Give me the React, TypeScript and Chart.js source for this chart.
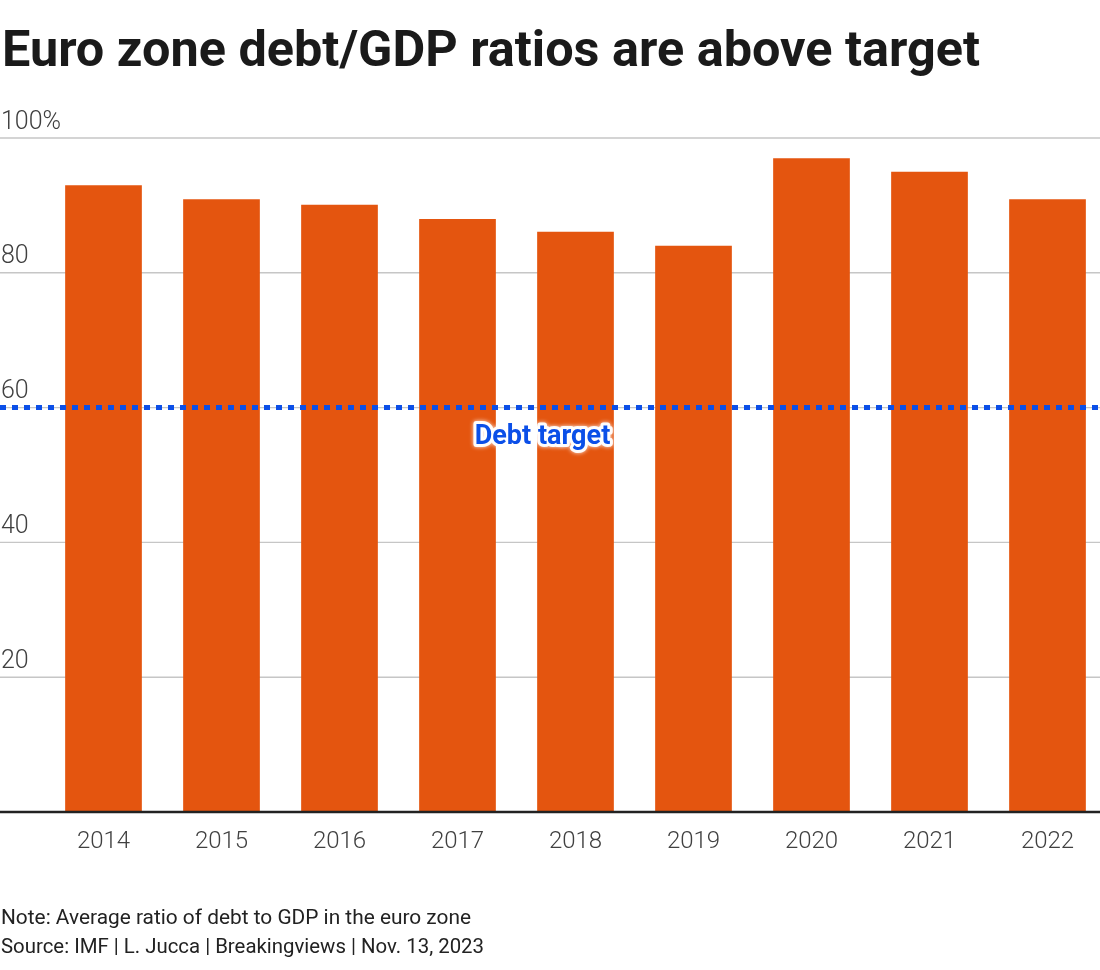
import React, { useEffect, useRef } from "react";
import { Chart, registerables } from "chart.js";

Chart.register(...registerables);

const years = ["2014", "2015", "2016", "2017", "2018", "2019", "2020", "2021", "2022"];
const debtRatio = [93.0, 90.9, 90.1, 88.0, 86.1, 84.0, 97.0, 95.0, 90.9];
const yTicks = [20, 40, 60, 80, 100];
const targetValue = 60;
const targetLabel = "Debt target";
const titleText = "Euro zone debt/GDP ratios are above target";
const noteText = "Note: Average ratio of debt to GDP in the euro zone";
const sourceText = "Source: IMF | L. Jucca | Breakingviews | Nov. 13, 2023";

const W = 1100;
const H = 970;
const BAR = "#E4550F";
const BLUE = "#0B4FE8";

const overlay = {
  id: "overlay",
  beforeDatasetsDraw(chart: any) {
    const ctx = chart.ctx;
    const y = chart.scales.y;
    ctx.save();
    ctx.strokeStyle = "#c6c6c6";
    ctx.lineWidth = 1.4;
    ctx.fillStyle = "#404040";
    ctx.font = "300 25px Roboto";
    ctx.textAlign = "left";
    ctx.textBaseline = "alphabetic";
    yTicks.forEach((v) => {
      const py = y.getPixelForValue(v);
      ctx.beginPath();
      ctx.moveTo(0, py);
      ctx.lineTo(W, py);
      ctx.stroke();
      ctx.fillText(v === 100 ? v + "%" : String(v), 1, py - 9.5);
    });
    ctx.restore();
  },
  afterDatasetsDraw(chart: any) {
    const ctx = chart.ctx;
    const y = chart.scales.y;
    ctx.save();
    const p0 = y.getPixelForValue(0);
    ctx.strokeStyle = "#222";
    ctx.lineWidth = 2.5;
    ctx.beginPath();
    ctx.moveTo(0, p0);
    ctx.lineTo(W, p0);
    ctx.stroke();
    const pt = y.getPixelForValue(targetValue);
    ctx.strokeStyle = BLUE;
    ctx.lineWidth = 5;
    ctx.setLineDash([6, 6]);
    ctx.beginPath();
    ctx.moveTo(0, pt);
    ctx.lineTo(W, pt);
    ctx.stroke();
    ctx.setLineDash([]);
    ctx.font = "bold 27px Roboto";
    ctx.textAlign = "center";
    ctx.textBaseline = "alphabetic";
    ctx.lineJoin = "round";
    ctx.strokeStyle = "rgba(255,255,255,0.95)";
    ctx.lineWidth = 6;
    ctx.shadowColor = "rgba(255,255,255,0.9)";
    ctx.shadowBlur = 4;
    ctx.strokeText(targetLabel, 542.5, pt + 36, 139);
    ctx.shadowBlur = 0;
    ctx.fillStyle = BLUE;
    ctx.fillText(targetLabel, 542.5, pt + 36, 139);
    ctx.restore();
  },
  afterDraw(chart: any) {
    const ctx = chart.ctx;
    ctx.save();
    ctx.textAlign = "left";
    ctx.textBaseline = "alphabetic";
    ctx.fillStyle = "#1a1a1a";
    ctx.font = "bold 50.5px Roboto";
    ctx.fillText(titleText, 2, 66, 978);
    ctx.fillStyle = "#222";
    ctx.font = "400 21px Roboto";
    ctx.fillText(noteText, 1, 924, 470);
    ctx.fillText(sourceText, 1, 953, 483);
    ctx.restore();
  },
};

export default function App() {
  const ref = useRef<HTMLCanvasElement | null>(null);
  useEffect(() => {
    if (!ref.current) return;
    const chart = new Chart(ref.current, {
      type: "bar",
      data: {
        labels: years,
        datasets: [
          {
            data: debtRatio,
            backgroundColor: BAR,
            borderWidth: 0,
            categoryPercentage: 1,
            barPercentage: 0.65,
            clip: false as any,
          },
        ],
      },
      options: {
        responsive: false,
        animation: false,
        devicePixelRatio: 1,
        layout: { padding: { left: 103.5, right: 52.5, top: 138, bottom: 0 } },
        plugins: { legend: { display: false }, tooltip: { enabled: false }, title: { display: false } },
        scales: {
          x: {
            offset: false,
            grid: { display: false, drawTicks: false },
            border: { display: false },
            ticks: { font: { family: "Roboto", size: 24, weight: "300" as any }, color: "#404040", padding: 16, maxRotation: 0 },
            afterFit: (s: any) => {
              s.height = 158;
            },
          },
          y: { display: false, min: 0, max: 100 },
        },
      },
      plugins: [overlay],
    });
    return () => chart.destroy();
  }, []);
  return (
    <div style={{ position: "absolute", left: 0, top: 0, width: W, height: H, background: "#fff" }}>
      <canvas ref={ref} width={W} height={H} style={{ display: "block" }} />
    </div>
  );
}
